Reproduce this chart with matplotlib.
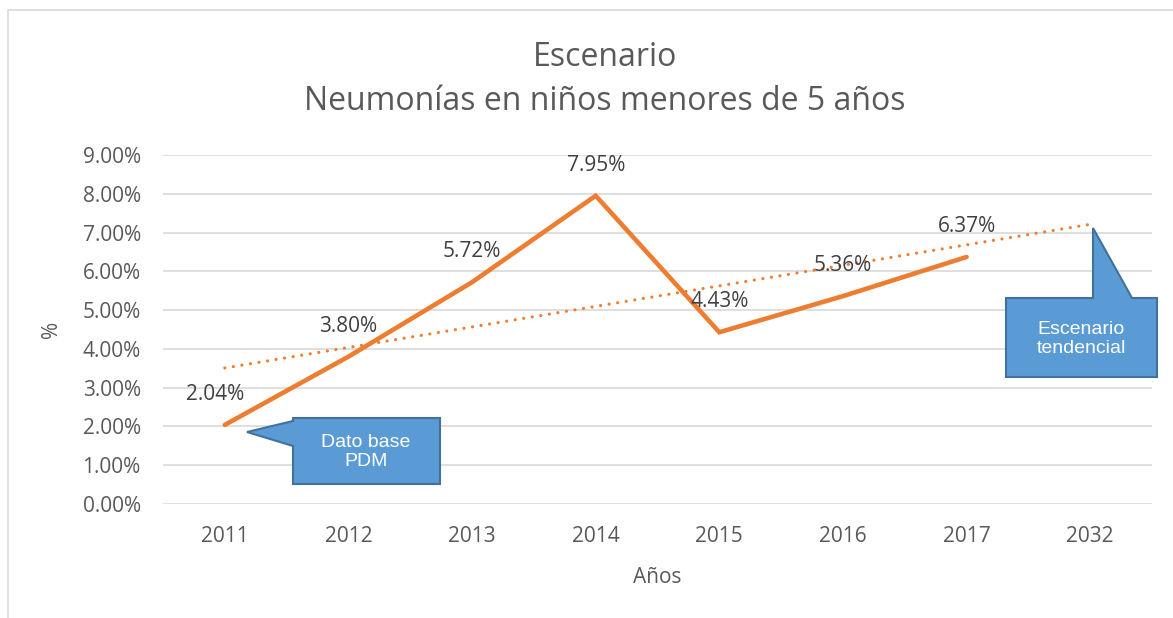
import matplotlib
matplotlib.use('Agg')
import matplotlib.pyplot as plt
import numpy as np
from matplotlib.patches import Polygon
from matplotlib.lines import Line2D
from matplotlib import font_manager

plt.rcParams['font.family'] = ['Open Sans', 'DejaVu Sans']

years = ['2011', '2012', '2013', '2014', '2015', '2016', '2017', '2032']
values = [2.04, 3.80, 5.72, 7.95, 4.43, 5.36, 6.37]
yticks = [0, 1, 2, 3, 4, 5, 6, 7, 8, 9]
title_lines = ['Escenario', 'Neumonías en niños menores de 5 años']

W, H = 1173, 618
GRAY = '#595959'
ORANGE = '#ED7D31'
BLUE = '#5B9BD5'
BLUE_EDGE = '#41719C'

names = {f.name for f in font_manager.fontManager.ttflist}
callout_font = ['Liberation Sans Narrow'] if 'Liberation Sans Narrow' in names else ['Liberation Sans']

fig = plt.figure(figsize=(W / 100, H / 100), dpi=100)
fig.patch.set_facecolor('white')

def px(x0, y0, x1, y1):
    return [x0 / W, 1 - y1 / H, (x1 - x0) / W, (y1 - y0) / H]

ax = fig.add_axes(px(163, 155, 1152, 504))
ax.set_xlim(-0.5, len(years) - 0.5)
ax.set_ylim(0, 9)
ax.set_yticks(yticks)
ax.set_yticklabels([f"{v:.2f}%" for v in yticks])
ax.set_xticks(range(len(years)))
ax.set_xticklabels(years)
for s in ax.spines.values():
    s.set_visible(False)
ax.tick_params(length=0, labelsize=15, colors=GRAY)
ax.tick_params(axis='y', pad=16)
ax.tick_params(axis='x', pad=16)
ax.grid(axis='y', color='#D9D9D9', linewidth=1.2)
ax.set_axisbelow(True)

x = np.arange(len(values))
ax.plot(x, values, color=ORANGE, linewidth=3.3, solid_capstyle='round',
        solid_joinstyle='miter', zorder=3)

# linear trendline, forecast forward one period
coef = np.polyfit(x, values, 1)
tx = np.arange(len(years))
ty = np.polyval(coef, tx)
ax.plot(tx, ty, color=ORANGE, linewidth=2.3, linestyle=(0, (0.01, 2.7)),
        dash_capstyle='round', zorder=2)

for i, v in enumerate(values):
    dx = -7 if i == 0 else 0
    ax.annotate(f"{v:.2f}%", (i, v), xytext=(dx, 22), textcoords='offset points',
                ha='center', va='center', fontsize=15, color='#404040', zorder=4)

ax.set_xlabel('Años', fontsize=15, color=GRAY, labelpad=14)
ax.set_ylabel('%', fontsize=15, color=GRAY)
ax.yaxis.set_label_coords((62 - 163) / (1152 - 163), 0.5)

for line, yy in zip(title_lines, [57, 102]):
    fig.text(605 / W, 1 - yy / H, line, ha='center', va='center',
             fontsize=23, color=GRAY)

# overlay for border and callouts
ov = fig.add_axes([0, 0, 1, 1], zorder=5)
ov.set_xlim(0, W)
ov.set_ylim(H, 0)
ov.axis('off')
ov.patch.set_alpha(0)
ov.add_line(Line2D([8, 8, W], [H, 10, 10], color='#D9D9D9', linewidth=1.2))

c1 = [(293, 418), (440, 418), (440, 484), (293, 484), (293, 446), (247, 432), (293, 421)]
c2 = [(1006, 298), (1093, 298), (1093, 228), (1132, 298), (1157, 298), (1157, 377), (1006, 377)]
for poly in (c1, c2):
    ov.add_patch(Polygon(poly, closed=True, facecolor=BLUE, edgecolor=BLUE_EDGE,
                         linewidth=1.5, joinstyle='miter'))
ov.text(366, 452, 'Dato base\nPDM', ha='center', va='center', color='white',
        fontsize=14, linespacing=1.2, family=callout_font)
ov.text(1081, 339, 'Escenario\ntendencial', ha='center', va='center', color='white',
        fontsize=14, linespacing=1.2, family=callout_font)

fig.savefig('out.png', dpi=100, facecolor='white')
